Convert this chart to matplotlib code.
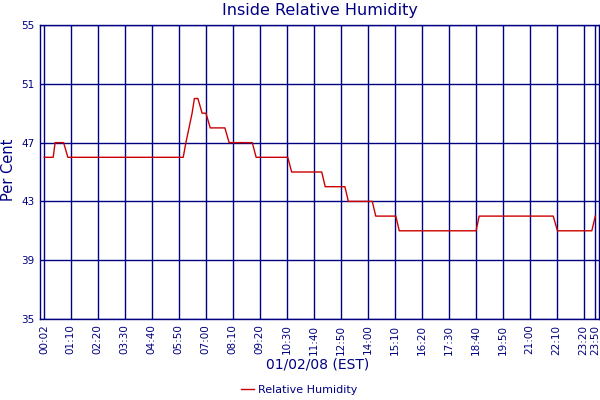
import matplotlib
matplotlib.use("Agg")
import matplotlib.pyplot as plt

# Data: corner points of the humidity trace (time of day, % RH)
times = ["00:02", "00:25", "00:30", "00:52", "01:03", "06:02", "06:09", "06:17",
         "06:25", "06:31", "06:40", "06:51", "07:01", "07:12", "07:50", "08:01",
         "09:01", "09:11", "10:33", "10:43", "12:01", "12:10", "13:01", "13:10",
         "14:12", "14:21", "15:13", "15:22", "18:41", "18:49", "22:01", "22:12",
         "23:41", "23:50"]
humidity = [46, 46, 47, 47, 46, 46, 47, 48,
            49, 50, 50, 49, 49, 48, 48, 47,
            47, 46, 46, 45, 45, 44, 44, 43,
            43, 42, 42, 41, 41, 42, 42, 41,
            41, 42]

tick_labels = ["00:02", "01:10", "02:20", "03:30", "04:40", "05:50", "07:00",
               "08:10", "09:20", "10:30", "11:40", "12:50", "14:00", "15:10",
               "16:20", "17:30", "18:40", "19:50", "21:00", "22:10", "23:20", "23:50"]
y_ticks = [35, 39, 43, 47, 51, 55]


def to_min(s):
    h, m = s.split(":")
    return int(h) * 60 + int(m)


x = [to_min(t) for t in times]
xt = [to_min(t) for t in tick_labels]

NAVY = "#000080"
fig = plt.figure(figsize=(6, 4), dpi=100)
ax = fig.add_axes([40.3 / 600, 1 - 319 / 400, (599.3 - 40.3) / 600, (319 - 25) / 400])

ax.plot(x, humidity, color="#cc0000", lw=1.0, label="Relative Humidity", zorder=3)

ax.set_xlim(-8.4, 1440.4)
ax.set_ylim(35, 55)
ax.set_xticks(xt)
ax.set_xticklabels(tick_labels, rotation=90, fontsize=7.5, color=NAVY)
ax.set_yticks(y_ticks)
ax.set_yticklabels([str(v) for v in y_ticks], fontsize=7.5, color=NAVY)
ax.tick_params(axis="both", length=0, pad=4)
ax.grid(True, color=NAVY, lw=1.0)
for sp in ax.spines.values():
    sp.set_color(NAVY)
    sp.set_linewidth(1.0)

fig.text(319.5 / 600, 1 - 11 / 400, "Inside Relative Humidity", ha="center", va="center",
         fontsize=11.5, color=NAVY)
fig.text(318 / 600, 1 - 365 / 400, "01/02/08 (EST)", ha="center", va="center",
         fontsize=10, color=NAVY)
fig.text(9 / 600, 1 - 170 / 400, "Per Cent", ha="center", va="center",
         rotation=90, fontsize=10.5, color=NAVY)

leg = fig.legend(loc="center", bbox_to_anchor=(299 / 600, 1 - 390 / 400), frameon=False,
                 fontsize=8, handlelength=1.2, handletextpad=0.3, borderpad=0)
for t in leg.get_texts():
    t.set_color(NAVY)

fig.savefig("out.png", dpi=100)
